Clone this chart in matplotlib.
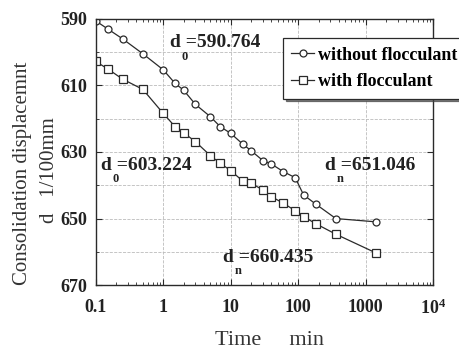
import matplotlib
matplotlib.use("Agg")
import matplotlib.pyplot as plt
import numpy as np

plt.rcParams['font.family'] = ['Liberation Serif', 'DejaVu Serif']
plt.rcParams['mathtext.fontset'] = 'custom'
plt.rcParams['mathtext.rm'] = 'Liberation Serif'
plt.rcParams['mathtext.bf'] = 'Liberation Serif:bold'

# time (min) and displacement (1/100 mm)
time_min = [0.1, 0.15, 0.25, 0.5, 1, 1.5, 2, 3, 5, 7, 10, 15, 20, 30, 40, 60, 90, 120, 180, 360, 1440]
without_floc = [590.6, 593.0, 596.0, 600.5, 605.3, 609.4, 611.4, 615.7, 619.4, 622.4, 624.4,
                627.6, 629.6, 632.6, 633.6, 635.9, 637.7, 642.9, 645.6, 650.0, 651.0]
with_floc = [602.8, 605.0, 608.1, 611.2, 618.4, 622.4, 624.2, 626.9, 631.1, 633.4, 635.6,
             638.7, 639.4, 641.4, 643.4, 645.4, 647.6, 649.4, 651.5, 654.7, 660.4]

x_ticks = [0.1, 1, 10, 100, 1000, 10000]
x_labels = ['0.1', '1', '10', '100', '1000', r'$\mathbf{10^4}$']
y_ticks = [590, 610, 630, 650, 670]

fig = plt.figure(figsize=(4.6, 3.49), dpi=100)
ax = fig.add_axes([0.208, 0.183, 0.734, 0.763])

ink = '#2a2a2a'
ax.plot(time_min, without_floc, '-o', color=ink, lw=0.9, ms=5, mfc='white', mec=ink, mew=0.9,
        label='without flocculant')
ax.plot(time_min, with_floc, '-s', color=ink, lw=0.9, ms=5.5, mfc='white', mec=ink, mew=0.9,
        label='with flocculant')

ax.set_xscale('log')
ax.set_xlim(0.1, 10000)
ax.set_ylim(670, 590)
ax.set_xticks(x_ticks)
ax.set_xticklabels(x_labels)
ax.set_yticks(y_ticks)
ax.set_yticks(np.arange(600, 670, 20), minor=True)
ax.tick_params(which='both', direction='in', top=True, right=True, color=ink)
ax.tick_params(which='major', length=4, labelsize=13, pad=6)
ax.tick_params(axis='x', which='major', pad=10)
ax.tick_params(which='minor', length=2.5)
for lab in ax.get_xticklabels() + ax.get_yticklabels():
    lab.set_fontweight('bold')
    lab.set_color('#222222')
ax.grid(True, which='major', axis='x', ls='--', lw=0.6, color='#bbbbbb')
ax.grid(True, which='both', axis='y', ls='--', lw=0.6, color='#bbbbbb')
for s in ax.spines.values():
    s.set_color(ink)
    s.set_linewidth(1.0)

# annotations
fs = 14
def dlabel(x, y, sub, txt):
    ax.text(x, y, 'd ' + txt, transform=ax.transAxes, fontsize=fs, fontweight='bold',
            color='#222222', va='baseline', ha='left')
    ax.text(x + 0.034, y - 0.046, sub, transform=ax.transAxes, fontsize=9, fontweight='bold',
            color='#222222', va='baseline', ha='left')

dlabel(0.220, 0.893, '0', '=590.764')
dlabel(0.015, 0.432, '0', '=603.224')
dlabel(0.679, 0.432, 'n', '=651.046')
dlabel(0.378, 0.088, 'n', '=660.435')

leg = ax.legend(loc='upper left', frameon=True, fancybox=False,
                shadow={'color': '#444444', 'alpha': 0.7},
                handlelength=1.3, handletextpad=0.2, borderpad=0.45, labelspacing=0.55,
                borderaxespad=0, prop={'weight': 'bold', 'size': 13})
leg.set_bbox_to_anchor((0.615, 0.89), transform=fig.transFigure)
leg.get_frame().set_edgecolor(ink)
leg.get_frame().set_linewidth(0.9)

fig.text(0.586, 0.012, 'Time     min', fontsize=16, ha='center', va='baseline', color='#333333')
fig.text(0.05, 0.504, 'Consolidation displacemnt', fontsize=15, rotation=90,
         ha='center', va='center', color='#333333')
fig.text(0.108, 0.513, 'd   1/100mm', fontsize=15, rotation=90,
         ha='center', va='center', color='#333333')

fig.savefig('out.png', dpi=100)
